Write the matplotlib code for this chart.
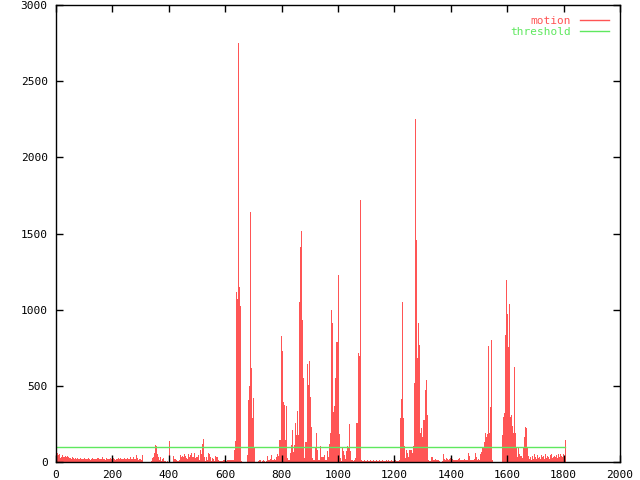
import numpy as np
import matplotlib
matplotlib.use("Agg")
import matplotlib.pyplot as plt

# motion value per sample (one sample ~ 3.55 frames)
sample_step = 2000 / 564
motion = [
    118, 61, 46, 52, 24, 31, 46, 35, 31, 39,
    35, 39, 31, 24, 28, 20, 30, 25, 22, 28,
    18, 24, 20, 22, 28, 18, 22, 20, 26, 18,
    22, 18, 24, 20, 16, 22, 26, 18, 20, 22,
    18, 24, 28, 20, 18, 22, 30, 18, 20, 16,
    24, 20, 18, 22, 26, 20, 18, 24, 20, 16,
    22, 18, 26, 20, 24, 18, 22, 20, 28, 18,
    20, 24, 18, 22, 30, 20, 18, 34, 22, 20,
    46, 24, 15, 20, 18, 12, 46, 0, 0, 0,
    0, 0, 0, 0, 0, 5, 24, 31, 60, 111,
    105, 52, 35, 15, 31, 9, 20, 24, 9, 5,
    3, 5, 3, 138, 3, 3, 3, 39, 22, 22,
    15, 7, 5, 10, 46, 35, 39, 31, 50, 39,
    24, 20, 50, 31, 46, 57, 30, 30, 57, 24,
    31, 31, 46, 15, 79, 50, 118, 150, 31, 7,
    31, 15, 57, 52, 35, 5, 24, 20, 5, 40,
    35, 30, 15, 5, 5, 5, 5, 10, 15, 5,
    5, 10, 15, 15, 15, 13, 13, 13, 79, 138,
    1115, 1073, 2753, 1148, 1022, 5, 0, 0, 0, 0,
    0, 46, 406, 498, 1640, 615, 288, 418, 92, 0,
    0, 0, 5, 10, 10, 0, 5, 10, 5, 0,
    5, 39, 10, 15, 20, 46, 15, 15, 20, 15,
    30, 50, 40, 144, 144, 825, 730, 395, 373, 144,
    367, 26, 15, 15, 58, 111, 210, 67, 111, 255,
    177, 336, 177, 1050, 1410, 1515, 930, 550, 26, 133,
    133, 642, 504, 664, 428, 231, 26, 15, 15, 92,
    190, 79, 15, 15, 105, 35, 35, 35, 46, 10,
    10, 72, 35, 118, 192, 995, 915, 325, 367, 550,
    788, 786, 1229, 183, 28, 7, 92, 72, 46, 20,
    74, 105, 98, 249, 72, 10, 10, 5, 10, 26,
    255, 255, 716, 694, 1722, 13, 5, 5, 10, 5,
    5, 10, 5, 5, 10, 5, 5, 10, 5, 5,
    10, 5, 5, 10, 5, 5, 10, 5, 5, 5,
    10, 5, 10, 5, 5, 10, 5, 5, 5, 10,
    5, 5, 5, 10, 290, 413, 1048, 290, 105, 28,
    79, 59, 35, 79, 79, 79, 59, 105, 520, 2253,
    1460, 683, 915, 771, 190, 223, 166, 275, 275, 472,
    537, 308, 13, 5, 5, 35, 35, 15, 10, 20,
    10, 15, 10, 5, 0, 0, 5, 52, 20, 15,
    25, 20, 15, 20, 25, 15, 20, 15, 10, 15,
    10, 15, 20, 28, 10, 15, 10, 15, 20, 10,
    15, 10, 59, 40, 10, 15, 10, 15, 20, 61,
    33, 15, 20, 10, 52, 67, 94, 91, 133, 190,
    166, 183, 762, 190, 362, 799, 10, 0, 0, 0,
    0, 0, 0, 0, 0, 0, 177, 293, 321, 832,
    1195, 974, 755, 1040, 297, 308, 236, 192, 624, 190,
    100, 33, 100, 52, 40, 40, 25, 92, 166, 231,
    225, 92, 40, 20, 30, 15, 40, 20, 52, 30,
    20, 46, 25, 35, 20, 46, 30, 40, 20, 55,
    25, 40, 30, 20, 46, 52, 25, 35, 40, 30,
    46, 25, 52, 30, 55, 40, 30, 52, 40, 144,
]
threshold = 100

x_ticks = [0, 200, 400, 600, 800, 1000, 1200, 1400, 1600, 1800, 2000]
y_ticks = [0, 500, 1000, 1500, 2000, 2500, 3000]

red = '#ff5555'
green = '#5fe85f'
plt.rcParams['font.family'] = 'DejaVu Sans Mono'

frames = np.arange(len(motion)) * sample_step

fig = plt.figure(figsize=(6.4, 4.8), dpi=100)
ax = fig.add_axes([0.0875, 0.0375, 0.88125, 0.952])

# slightly wider than one sample so neighbouring impulses touch, like gnuplot
ax.bar(frames, motion, width=sample_step * 1.35, align='edge', color=red,
       linewidth=0, antialiased=False)
ax.plot([frames[0], frames[-1]], [threshold, threshold], color=green,
        linewidth=1)

handles = [plt.Line2D([], [], color=red, linewidth=1),
           plt.Line2D([], [], color=green, linewidth=1)]
ax.legend(handles, ['motion', 'threshold'], loc='upper right',
          frameon=False, markerfirst=False, labelcolor=[red, green],
          fontsize=8, handlelength=2.6, handletextpad=0.8,
          labelspacing=0.1, borderaxespad=0.6)

ax.set_xlim(0, 2000)
ax.set_ylim(0, 3000)
ax.set_xticks(x_ticks)
ax.set_yticks(y_ticks)
ax.tick_params(direction='in', length=5, width=1, labelsize=8,
               top=True, right=True, pad=6)
for s in ax.spines.values():
    s.set_linewidth(1)

fig.savefig('out.png', dpi=100)
